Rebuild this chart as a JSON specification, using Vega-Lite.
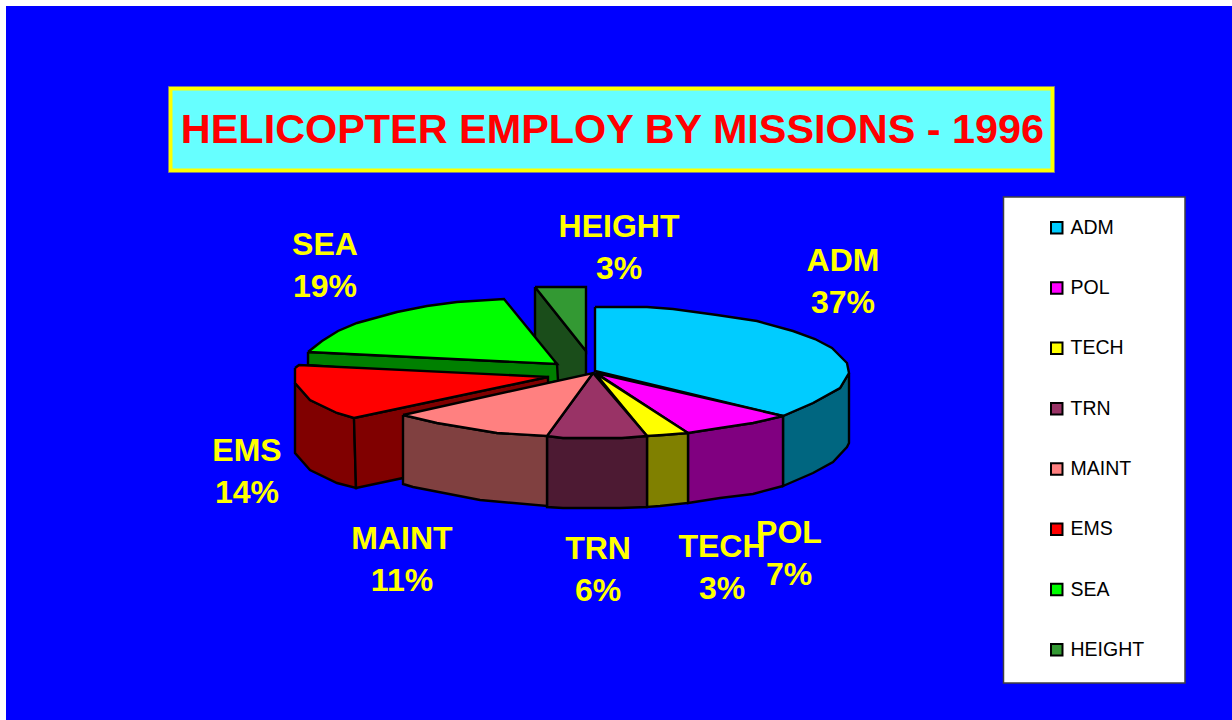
{"$schema":"https://vega.github.io/schema/vega-lite/v6.json","autosize":"none","padding":{"left":6,"top":6,"right":0,"bottom":0},"width":1226,"height":714,"background":"#ffffff","view":{"fill":"#0000ff","stroke":null},
"datasets":{
"faces":[
{"piece":"HEIGHT side","seq":1,"x":535,"y":287},{"piece":"HEIGHT side","seq":2,"x":586,"y":351},{"piece":"HEIGHT side","seq":3,"x":586,"y":377},{"piece":"HEIGHT side","seq":4,"x":555,"y":385},{"piece":"HEIGHT side","seq":5,"x":535,"y":352},{"piece":"HEIGHT side","seq":6,"x":535,"y":287},
{"piece":"HEIGHT","seq":1,"x":535,"y":287},{"piece":"HEIGHT","seq":2,"x":586,"y":287},{"piece":"HEIGHT","seq":3,"x":586,"y":351},{"piece":"HEIGHT","seq":4,"x":535,"y":287},
{"piece":"SEA side","seq":1,"x":308,"y":352},{"piece":"SEA side","seq":2,"x":557,"y":364},{"piece":"SEA side","seq":3,"x":558,"y":381},{"piece":"SEA side","seq":4,"x":545,"y":384},{"piece":"SEA side","seq":5,"x":308,"y":365},{"piece":"SEA side","seq":6,"x":308,"y":352},
{"piece":"SEA","seq":1,"x":308,"y":352},{"piece":"SEA","seq":2,"x":322,"y":341},{"piece":"SEA","seq":3,"x":338,"y":331},{"piece":"SEA","seq":4,"x":357,"y":323},{"piece":"SEA","seq":5,"x":397,"y":312},{"piece":"SEA","seq":6,"x":427,"y":306},{"piece":"SEA","seq":7,"x":457,"y":302},{"piece":"SEA","seq":8,"x":504,"y":299},{"piece":"SEA","seq":9,"x":557,"y":364},{"piece":"SEA","seq":10,"x":308,"y":352},
{"piece":"EMS side","seq":1,"x":295,"y":383},{"piece":"EMS side","seq":2,"x":310,"y":400},{"piece":"EMS side","seq":3,"x":337,"y":413},{"piece":"EMS side","seq":4,"x":354,"y":418},{"piece":"EMS side","seq":5,"x":356,"y":488},{"piece":"EMS side","seq":6,"x":337,"y":483},{"piece":"EMS side","seq":7,"x":310,"y":470},{"piece":"EMS side","seq":8,"x":295,"y":453},{"piece":"EMS side","seq":9,"x":295,"y":383},
{"piece":"EMS cut","seq":1,"x":354,"y":418},{"piece":"EMS cut","seq":2,"x":548,"y":377},{"piece":"EMS cut","seq":3,"x":548,"y":385},{"piece":"EMS cut","seq":4,"x":403,"y":478},{"piece":"EMS cut","seq":5,"x":356,"y":488},{"piece":"EMS cut","seq":6,"x":354,"y":418},
{"piece":"EMS","seq":1,"x":295,"y":368},{"piece":"EMS","seq":2,"x":299,"y":365},{"piece":"EMS","seq":3,"x":548,"y":377},{"piece":"EMS","seq":4,"x":354,"y":418},{"piece":"EMS","seq":5,"x":337,"y":413},{"piece":"EMS","seq":6,"x":310,"y":400},{"piece":"EMS","seq":7,"x":295,"y":383},{"piece":"EMS","seq":8,"x":295,"y":368},
{"piece":"ADM side","seq":1,"x":849,"y":373},{"piece":"ADM side","seq":2,"x":840,"y":388},{"piece":"ADM side","seq":3,"x":813,"y":403},{"piece":"ADM side","seq":4,"x":783,"y":416},{"piece":"ADM side","seq":5,"x":783,"y":486},{"piece":"ADM side","seq":6,"x":813,"y":473},{"piece":"ADM side","seq":7,"x":833,"y":462},{"piece":"ADM side","seq":8,"x":847,"y":447},{"piece":"ADM side","seq":9,"x":849,"y":443},{"piece":"ADM side","seq":10,"x":849,"y":373},
{"piece":"ADM","seq":1,"x":595,"y":307},{"piece":"ADM","seq":2,"x":647,"y":307},{"piece":"ADM","seq":3,"x":673,"y":309},{"piece":"ADM","seq":4,"x":717,"y":315},{"piece":"ADM","seq":5,"x":757,"y":321},{"piece":"ADM","seq":6,"x":793,"y":331},{"piece":"ADM","seq":7,"x":815,"y":339},{"piece":"ADM","seq":8,"x":832,"y":348},{"piece":"ADM","seq":9,"x":847,"y":363},{"piece":"ADM","seq":10,"x":849,"y":373},{"piece":"ADM","seq":11,"x":840,"y":388},{"piece":"ADM","seq":12,"x":813,"y":403},{"piece":"ADM","seq":13,"x":783,"y":416},{"piece":"ADM","seq":14,"x":595,"y":371},{"piece":"ADM","seq":15,"x":595,"y":307},
{"piece":"POL side","seq":1,"x":688,"y":433},{"piece":"POL side","seq":2,"x":720,"y":428},{"piece":"POL side","seq":3,"x":753,"y":423},{"piece":"POL side","seq":4,"x":783,"y":416},{"piece":"POL side","seq":5,"x":783,"y":486},{"piece":"POL side","seq":6,"x":753,"y":494},{"piece":"POL side","seq":7,"x":720,"y":498},{"piece":"POL side","seq":8,"x":688,"y":503},{"piece":"POL side","seq":9,"x":688,"y":433},
{"piece":"POL","seq":1,"x":596,"y":373},{"piece":"POL","seq":2,"x":783,"y":416},{"piece":"POL","seq":3,"x":753,"y":423},{"piece":"POL","seq":4,"x":720,"y":428},{"piece":"POL","seq":5,"x":688,"y":433},{"piece":"POL","seq":6,"x":596,"y":373},
{"piece":"TECH side","seq":1,"x":647,"y":436},{"piece":"TECH side","seq":2,"x":663,"y":435},{"piece":"TECH side","seq":3,"x":688,"y":433},{"piece":"TECH side","seq":4,"x":688,"y":503},{"piece":"TECH side","seq":5,"x":660,"y":506},{"piece":"TECH side","seq":6,"x":647,"y":507},{"piece":"TECH side","seq":7,"x":647,"y":436},
{"piece":"TECH","seq":1,"x":595,"y":373},{"piece":"TECH","seq":2,"x":688,"y":433},{"piece":"TECH","seq":3,"x":663,"y":435},{"piece":"TECH","seq":4,"x":647,"y":436},{"piece":"TECH","seq":5,"x":595,"y":373},
{"piece":"TRN side","seq":1,"x":547,"y":436},{"piece":"TRN side","seq":2,"x":563,"y":438},{"piece":"TRN side","seq":3,"x":622,"y":438},{"piece":"TRN side","seq":4,"x":647,"y":436},{"piece":"TRN side","seq":5,"x":647,"y":507},{"piece":"TRN side","seq":6,"x":620,"y":508},{"piece":"TRN side","seq":7,"x":563,"y":508},{"piece":"TRN side","seq":8,"x":547,"y":507},{"piece":"TRN side","seq":9,"x":547,"y":436},
{"piece":"TRN","seq":1,"x":593,"y":373},{"piece":"TRN","seq":2,"x":647,"y":436},{"piece":"TRN","seq":3,"x":622,"y":438},{"piece":"TRN","seq":4,"x":563,"y":438},{"piece":"TRN","seq":5,"x":547,"y":436},{"piece":"TRN","seq":6,"x":593,"y":373},
{"piece":"MAINT side","seq":1,"x":403,"y":415},{"piece":"MAINT side","seq":2,"x":437,"y":423},{"piece":"MAINT side","seq":3,"x":497,"y":433},{"piece":"MAINT side","seq":4,"x":547,"y":436},{"piece":"MAINT side","seq":5,"x":547,"y":506},{"piece":"MAINT side","seq":6,"x":480,"y":500},{"piece":"MAINT side","seq":7,"x":413,"y":487},{"piece":"MAINT side","seq":8,"x":403,"y":484},{"piece":"MAINT side","seq":9,"x":403,"y":415},
{"piece":"MAINT","seq":1,"x":403,"y":415},{"piece":"MAINT","seq":2,"x":593,"y":373},{"piece":"MAINT","seq":3,"x":547,"y":436},{"piece":"MAINT","seq":4,"x":497,"y":433},{"piece":"MAINT","seq":5,"x":437,"y":423},{"piece":"MAINT","seq":6,"x":403,"y":415}
],
"labels":[
{"mission":"ADM","share":"37%","label":["ADM","37%"],"x":843,"y":261},
{"mission":"HEIGHT","share":"3%","label":["HEIGHT","3%"],"x":619,"y":227},
{"mission":"SEA","share":"19%","label":["SEA","19%"],"x":325,"y":245},
{"mission":"EMS","share":"14%","label":["EMS","14%"],"x":247,"y":451},
{"mission":"MAINT","share":"11%","label":["MAINT","11%"],"x":402,"y":539},
{"mission":"TRN","share":"6%","label":["TRN","6%"],"x":598,"y":549},
{"mission":"TECH","share":"3%","label":["TECH","3%"],"x":722,"y":547},
{"mission":"POL","share":"7%","label":["POL","7%"],"x":789,"y":533}
]},
"layer":[
{"data":{"values":[{"x":168.5,"x2":1054.5,"y":86.5,"y2":172.5}]},"mark":{"type":"rect","fill":"#ffff00","stroke":"#808080","strokeWidth":1},
"encoding":{"x":{"field":"x","type":"quantitative","scale":{"domain":[6,1232],"nice":false,"zero":false},"axis":null},"x2":{"field":"x2"},"y":{"field":"y","type":"quantitative","scale":{"domain":[720,6],"nice":false,"zero":false},"axis":null},"y2":{"field":"y2"}}},
{"data":{"values":[{"x":172.5,"x2":1050.5,"y":90.5,"y2":168.5}]},"mark":{"type":"rect","fill":"#66ffff"},
"encoding":{"x":{"field":"x","type":"quantitative","axis":null},"x2":{"field":"x2"},"y":{"field":"y","type":"quantitative","axis":null},"y2":{"field":"y2"}}},
{"data":{"values":[{"x":1003.5,"x2":1185,"y":197,"y2":683}]},"mark":{"type":"rect","fill":"#ffffff","stroke":"#404040","strokeWidth":1.5},
"encoding":{"x":{"field":"x","type":"quantitative","axis":null},"x2":{"field":"x2"},"y":{"field":"y","type":"quantitative","axis":null},"y2":{"field":"y2"}}},
{"data":{"values":[{"text":"HELICOPTER EMPLOY BY MISSIONS - 1996","x":612.5,"y":131}]},"mark":{"type":"text","font":"Liberation Sans","fontWeight":"bold","fontSize":41.4,"fill":"#ff0000","align":"center","baseline":"middle"},
"encoding":{"x":{"field":"x","type":"quantitative","axis":null},"y":{"field":"y","type":"quantitative","axis":null},"text":{"field":"text"}}},
{"data":{"name":"faces"},"mark":{"type":"line","filled":true,"stroke":"#000000","strokeWidth":2.4,"strokeJoin":"miter"},
"encoding":{"x":{"field":"x","type":"quantitative","axis":null},"y":{"field":"y","type":"quantitative","axis":null},"order":{"field":"seq","type":"quantitative"},
"color":{"field":"piece","type":"nominal","sort":null,"scale":{"domain":["ADM","POL","TECH","TRN","MAINT","EMS","SEA","HEIGHT","ADM side","POL side","TECH side","TRN side","MAINT side","EMS side","EMS cut","SEA side","HEIGHT side"],"range":["#00ccff","#ff00ff","#ffff00","#993366","#ff8080","#ff0000","#00ff00","#339933","#006680","#800080","#808000","#4d1a33","#804040","#800000","#800000","#008000","#1a4d1a"]},
"legend":{"values":["ADM","POL","TECH","TRN","MAINT","EMS","SEA","HEIGHT"],"title":null,"orient":"none","legendX":1041,"legendY":212,"zindex":1,"padding":0,"columns":1,"rowPadding":39.3,"symbolType":"square","symbolSize":132,"symbolStrokeColor":"#000000","symbolStrokeWidth":2,"symbolOpacity":1,"labelFont":"Liberation Sans","labelFontSize":19.5,"labelColor":"#000000","labelOffset":4,"labelLimit":200}}}},
{"data":{"name":"labels"},"mark":{"type":"text","font":"Liberation Sans","fontWeight":"bold","fontSize":32,"fill":"#ffff00","align":"center","baseline":"middle","lineHeight":42},
"encoding":{"x":{"field":"x","type":"quantitative","axis":null},"y":{"field":"y","type":"quantitative","axis":null},"text":{"field":"label"}}}
],
"config":{"style":{"cell":{"stroke":null}}}}
